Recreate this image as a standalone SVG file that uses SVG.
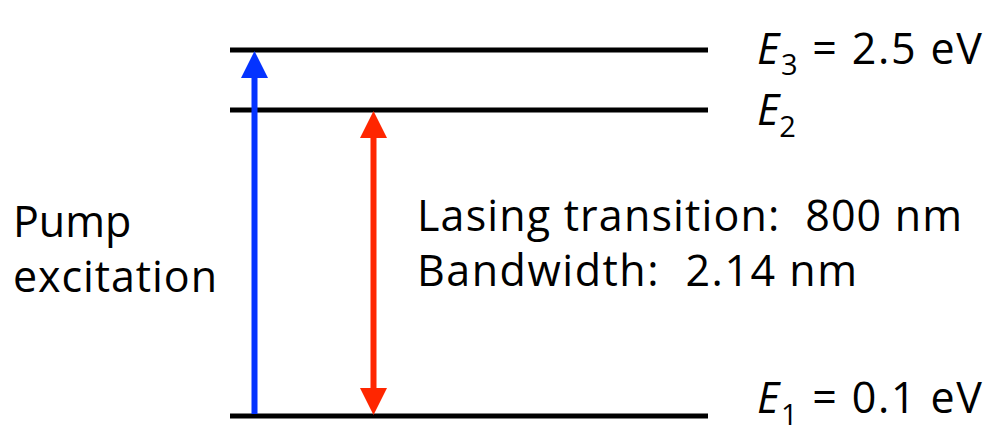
<svg xmlns="http://www.w3.org/2000/svg" width="987" height="443" viewBox="0 0 987 443">
<style>
.lvl{stroke:#000;stroke-width:5;fill:none}
text{font-family:"Open Sans","Noto Sans","Liberation Sans",sans-serif;font-size:43px;fill:#000;white-space:pre}
.sub{font-size:29px}
.it{font-style:italic}
</style>
<rect width="987" height="443" fill="#fff"/>
<g id="level-E3"><line class="lvl" x1="230" y1="50" x2="708" y2="50"/>
<text x="757" y="64" textLength="225"><tspan class="it">E</tspan><tspan class="sub" dy="11">3</tspan><tspan dy="-11"> = 2.5 eV</tspan></text></g>
<g id="level-E2"><line class="lvl" x1="230" y1="110" x2="708" y2="110"/>
<text x="757" y="125"><tspan class="it">E</tspan><tspan class="sub" dy="12">2</tspan></text></g>
<g id="level-E1"><line class="lvl" x1="230" y1="416" x2="708" y2="416"/>
<text x="757" y="413" textLength="225"><tspan class="it">E</tspan><tspan class="sub" dy="12">1</tspan><tspan dy="-12"> = 0.1 eV</tspan></text></g>
<g id="label-pump"><text x="13" y="237">Pump</text><text x="13" y="292" textLength="204">excitation</text></g>
<g id="label-lasing"><text x="417" y="231" textLength="545">Lasing transition:  800 nm</text>
<text x="417" y="286" textLength="440">Bandwidth:  2.14 nm</text></g>
<g id="connectors">
<line x1="254.5" y1="76" x2="254.5" y2="414" stroke="#0433ff" stroke-width="6"/>
<polygon points="254.5,51 241,78 268,78" fill="#0433ff"/>
<line x1="373.5" y1="136" x2="373.5" y2="390" stroke="#ff2600" stroke-width="6"/>
<polygon points="373.5,111 360,138 387,138" fill="#ff2600"/>
<polygon points="373.5,415 360,388 387,388" fill="#ff2600"/>
</g>
</svg>
